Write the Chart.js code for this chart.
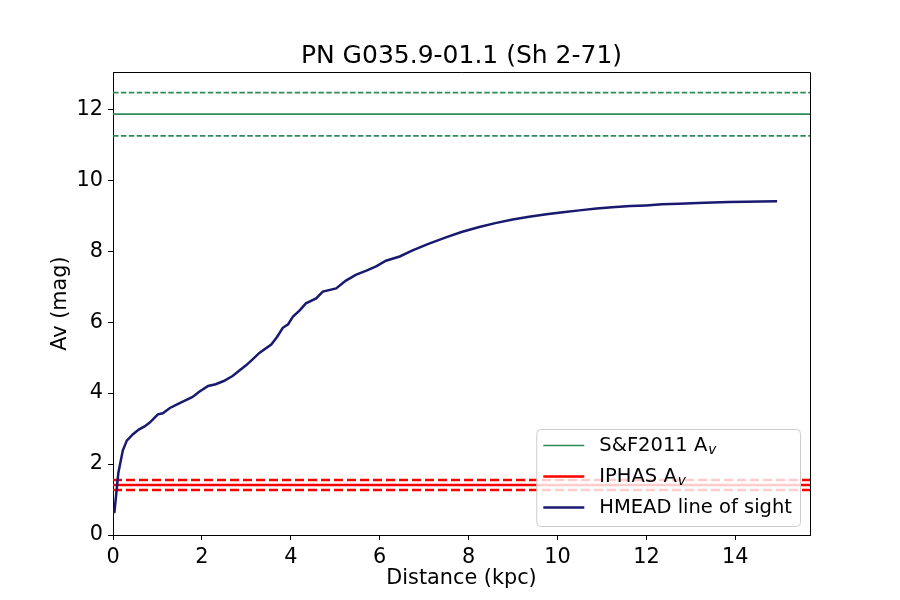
<!DOCTYPE html>
<html>
<head>
<meta charset="utf-8">
<script src="https://cdn.jsdelivr.net/npm/chart.js@4/dist/chart.umd.min.js"></script>
<style>
  body { margin: 0; background: #fff; }
  #wrap { width: 900px; height: 600px; }
</style>
</head>
<body>
<div id="wrap"><canvas id="chart" width="900" height="600"></canvas></div>
<script>
// HMEAD line of sight
const distance = [0.03, 0.12, 0.22, 0.31, 0.45, 0.58, 0.71, 0.82, 1.01, 1.12, 1.28, 1.50, 1.79, 1.94,
  2.14, 2.31, 2.49, 2.69, 2.83, 3.00, 3.14, 3.30, 3.56, 3.69, 3.82, 3.94, 4.05, 4.20, 4.34, 4.57,
  4.72, 5.02, 5.24, 5.46, 5.70, 5.92, 6.14, 6.45, 6.74, 7.08, 7.49, 7.84, 8.24, 8.60, 8.99, 9.36,
  9.75, 10.12, 10.49, 10.88, 11.23, 11.64, 11.99, 12.35, 12.74, 13.16, 13.49, 13.86, 14.24, 14.57, 14.94];
const avHmead = [0.62, 1.75, 2.38, 2.66, 2.84, 2.97, 3.06, 3.16, 3.40, 3.43, 3.58, 3.72, 3.89, 4.04,
  4.20, 4.25, 4.34, 4.48, 4.62, 4.79, 4.95, 5.14, 5.37, 5.58, 5.84, 5.94, 6.16, 6.33, 6.53, 6.67,
  6.86, 6.95, 7.17, 7.33, 7.45, 7.57, 7.73, 7.85, 8.02, 8.20, 8.39, 8.54, 8.68, 8.79, 8.89, 8.97,
  9.04, 9.10, 9.15, 9.20, 9.24, 9.27, 9.29, 9.32, 9.34, 9.36, 9.37, 9.385, 9.39, 9.40, 9.41];

// horizontal reference values: [value, lower, upper]
const sfAv = [11.86, 11.25, 12.47];
const iphasAv = [1.41, 1.27, 1.55];

const xTicks = [0, 2, 4, 6, 8, 10, 12, 14];
const yTicks = [0, 2, 4, 6, 8, 10, 12];
const xMax = 15.68;
const yMax = 13.05;

const titleText = 'PN G035.9-01.1 (Sh 2-71)';
const legendLabels = ['S&F2011 A', 'IPHAS A', 'HMEAD line of sight'];

const FONT = "'DejaVu Sans', sans-serif";
const GREEN = '#2e8b57';
const RED = '#ff0000';
const NAVY = '#191970';

function hline(y, color, width, dash) {
  return {
    data: [{ x: 0, y: y }, { x: xMax, y: y }],
    borderColor: color,
    borderWidth: width,
    borderDash: dash,
    pointRadius: 0,
    showLine: true,
    tension: 0
  };
}

const datasets = [
  {
    data: distance.map((d, i) => ({ x: d, y: avHmead[i] })),
    borderColor: NAVY,
    borderWidth: 2.5,
    pointRadius: 0,
    showLine: true,
    tension: 0
  },
  hline(iphasAv[0], RED, 2.5, []),
  hline(iphasAv[1], RED, 2.5, [9, 4]),
  hline(iphasAv[2], RED, 2.5, [9, 4]),
  hline(sfAv[0], GREEN, 1.7, []),
  hline(sfAv[1], GREEN, 1.7, [5.5, 2.4]),
  hline(sfAv[2], GREEN, 1.7, [5.5, 2.4])
];

// title over the axes, top and right spines, then a matplotlib-like legend in the lower right
const framePlugin = {
  id: 'frame',
  afterDraw(chart) {
    const ctx = chart.ctx;
    const a = chart.chartArea;
    ctx.save();
    ctx.fillStyle = '#000';
    ctx.font = '25px ' + FONT;
    ctx.textAlign = 'center';
    ctx.textBaseline = 'alphabetic';
    ctx.fillText(titleText, (a.left + a.right) / 2, a.top - 9);

    ctx.strokeStyle = '#000';
    ctx.lineWidth = 1;
    ctx.beginPath();
    ctx.moveTo(a.left, a.top + 0.5);
    ctx.lineTo(a.right + 0.5, a.top + 0.5);
    ctx.lineTo(a.right + 0.5, a.bottom);
    ctx.stroke();

    const fs = 19.5;
    const font = fs + 'px ' + FONT;
    const subFont = 'italic ' + (fs * 0.7) + 'px ' + FONT;
    ctx.font = subFont;
    const subW = ctx.measureText('v').width;
    ctx.font = font;
    const widths = legendLabels.map((t, i) => ctx.measureText(t).width + (i < 2 ? subW + 1 : 0));
    const textW = Math.max(...widths);
    const rowH = 31;
    const boxW = 7 + 41 + 15 + textW + 8;
    const boxH = rowH * 3 + 4;
    const right = a.right - 10;
    const bottom = a.bottom - 9;
    const x0 = right - boxW;
    const y0 = bottom - boxH;

    ctx.beginPath();
    ctx.roundRect(x0 + 0.5, y0 + 0.5, boxW, boxH, 4);
    ctx.fillStyle = 'rgba(255,255,255,0.8)';
    ctx.fill();
    ctx.strokeStyle = '#cccccc';
    ctx.stroke();

    const handles = [[GREEN, 1.7], [RED, 2.5], [NAVY, 2.5]];
    for (let i = 0; i < 3; i++) {
      const cy = y0 + 16.5 + i * rowH;
      ctx.strokeStyle = handles[i][0];
      ctx.lineWidth = handles[i][1];
      ctx.beginPath();
      ctx.moveTo(x0 + 7, cy);
      ctx.lineTo(x0 + 48, cy);
      ctx.stroke();

      ctx.fillStyle = '#000';
      ctx.font = font;
      ctx.textAlign = 'left';
      ctx.textBaseline = 'middle';
      const tx = x0 + 63;
      ctx.fillText(legendLabels[i], tx, cy);
      if (i < 2) {
        const w = ctx.measureText(legendLabels[i]).width;
        ctx.font = subFont;
        ctx.fillText('v', tx + w + 1, cy + 5);
      }
    }
    ctx.restore();
  }
};

function keepTicks(list) {
  return function (scale) {
    scale.ticks = list.map(v => ({ value: v }));
  };
}

new Chart(document.getElementById('chart'), {
  type: 'scatter',
  data: { datasets: datasets },
  options: {
    responsive: false,
    animation: false,
    devicePixelRatio: 1,
    layout: { padding: { left: 0, right: 90, top: 72, bottom: 0 } },
    plugins: {
      legend: { display: false },
      tooltip: { enabled: false },
      title: { display: false }
    },
    scales: {
      x: {
        type: 'linear',
        min: 0,
        max: xMax,
        afterBuildTicks: keepTicks(xTicks),
        afterFit(scale) { scale.height = 65; },
        grid: { drawOnChartArea: false, drawTicks: true, tickLength: 5, color: '#000' },
        border: { display: true, color: '#000', width: 1 },
        ticks: { color: '#000', padding: 5, maxRotation: 0, font: { family: FONT, size: 20.8 } },
        title: {
          display: true,
          text: 'Distance (kpc)',
          color: '#000',
          font: { family: FONT, size: 20.8, lineHeight: 1.2 },
          padding: { top: 0, bottom: 9 }
        }
      },
      y: {
        type: 'linear',
        min: 0,
        max: yMax,
        afterBuildTicks: keepTicks(yTicks),
        afterFit(scale) { scale.width = 113; },
        grid: { drawOnChartArea: false, drawTicks: true, tickLength: 5, color: '#000' },
        border: { display: true, color: '#000', width: 1 },
        ticks: { color: '#000', padding: 5, font: { family: FONT, size: 20.8 } },
        title: {
          display: true,
          text: 'Av (mag)',
          color: '#000',
          font: { family: FONT, size: 20.8, lineHeight: 1.2 },
          padding: { top: 48, bottom: 0 }
        }
      }
    }
  },
  plugins: [framePlugin]
});
</script>
</body>
</html>
